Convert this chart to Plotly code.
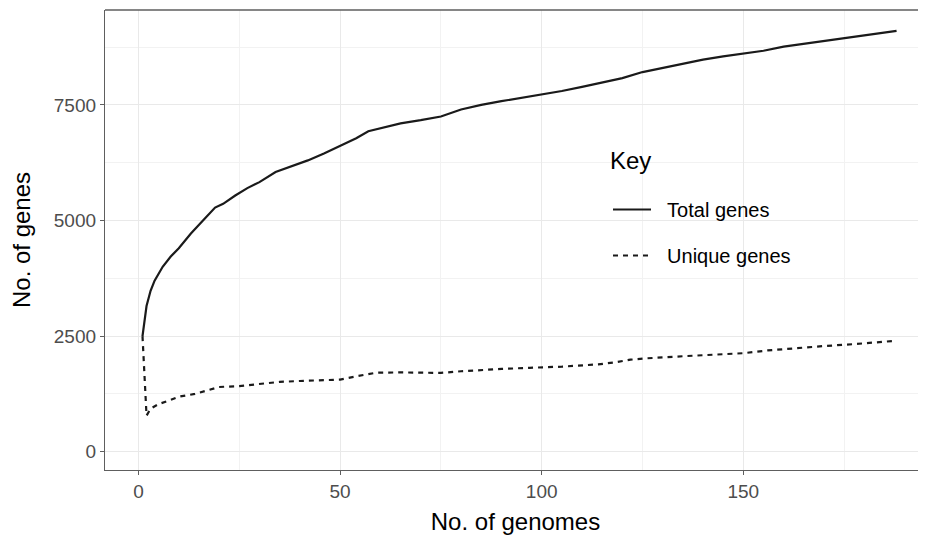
import plotly.graph_objects as go

# ---- data ----
genomes_total = [1, 2, 3, 4, 6, 8, 10, 13, 16, 19, 21, 24, 27, 30, 34, 38, 42, 46, 50,
                 54, 57, 60, 65, 70, 75, 80, 85, 90, 95, 100, 105, 110, 115, 120, 125,
                 130, 135, 140, 145, 150, 155, 160, 165, 170, 175, 180, 185, 188]
total_genes = [2500, 3150, 3480, 3700, 4000, 4220, 4400, 4720, 5000, 5280, 5360, 5540,
               5700, 5830, 6050, 6180, 6300, 6450, 6620, 6780, 6930, 6990, 7100, 7170,
               7250, 7400, 7500, 7580, 7650, 7720, 7800, 7890, 7980, 8080, 8210, 8300,
               8400, 8480, 8550, 8610, 8670, 8760, 8820, 8880, 8950, 9010, 9070, 9100]

genomes_unique = [1, 2, 3, 5, 7, 10, 14, 17, 20, 25, 30, 35, 40, 45, 50, 54, 59, 65, 70,
                  75, 80, 85, 90, 97, 105, 114, 118, 122, 126, 136, 145, 150, 156, 163,
                  170, 178, 183, 188]
unique_genes = [2500, 780, 930, 1030, 1090, 1190, 1250, 1320, 1400, 1420, 1460, 1510,
                1530, 1545, 1560, 1630, 1710, 1715, 1705, 1705, 1740, 1770, 1790, 1815,
                1840, 1890, 1930, 1990, 2020, 2070, 2110, 2130, 2190, 2240, 2285, 2330,
                2370, 2400]

series_names = ["Total genes", "Unique genes"]
legend_title = "Key"
x_title = "No. of genomes"
y_title = "No. of genes"
x_tick_vals = [0, 50, 100, 150]
y_tick_vals = [0, 2500, 5000, 7500]

FONT = "Liberation Sans, Arial, Helvetica, sans-serif"
LINE = "#1a1a1a"
GRID = "#e9e9e9"
MINOR = "#f2f2f2"
BORDER = "#5e5e5e"

# page is offset by the browser's 8px body margin
PL, PR, PT, PB = 105, 926, 10, 470   # plot area in page pixels


def px_x(p):
    return (p - PL) / (PR - PL)


def px_y(p):
    return 1 - (p - PT) / (PB - PT)


fig = go.Figure()
fig.add_trace(go.Scatter(x=genomes_total, y=total_genes, mode="lines",
                         name="&nbsp;&nbsp;" + series_names[0], legendgroup="a",
                         line=dict(color=LINE, width=2.2)))
fig.add_trace(go.Scatter(x=genomes_unique, y=unique_genes, mode="lines",
                         name="&nbsp;&nbsp;" + series_names[1], legendgroup="b",
                         line=dict(color=LINE, width=2.2, dash="5px,5px")))

axis_common = dict(
    showgrid=True, gridcolor=GRID, gridwidth=1.1,
    zeroline=False, showline=True, linecolor=BORDER, linewidth=1.3,
    ticks="outside", ticklen=4, tickcolor=BORDER, tickwidth=1.1,
    tickfont=dict(family=FONT, size=19, color="#4d4d4d"),
)

fig.update_layout(
    width=918, height=531,
    margin=dict(l=PL - 8, r=0, t=PT - 8, b=531 - (PB - 8)),
    paper_bgcolor="white", plot_bgcolor="white",
    font=dict(family=FONT, color="black"),
    xaxis=dict(range=[-8.3, 195.3], tickvals=x_tick_vals,
               minor=dict(dtick=25, tick0=0, showgrid=True, gridcolor=MINOR, gridwidth=0.7),
               title=dict(text=x_title, font=dict(family=FONT, size=24, color="black"), standoff=12),
               **axis_common),
    yaxis=dict(range=[-395, 9552], tickvals=y_tick_vals,
               minor=dict(dtick=1250, tick0=0, showgrid=True, gridcolor=MINOR, gridwidth=0.7),
               title=dict(text=y_title, font=dict(family=FONT, size=24, color="black"), standoff=17),
               **axis_common),
    legend=dict(
        font=dict(family=FONT, size=20, color="black"),
        bgcolor="rgba(0,0,0,0)", borderwidth=0,
        x=px_x(608), xanchor="left",
        y=px_y(190), yanchor="top",
        itemwidth=38, tracegroupgap=17,
    ),
    showlegend=True,
    shapes=[
        dict(type="rect", xref="paper", yref="paper", layer="between",
             x0=px_x(595), x1=px_x(815), y0=px_y(287), y1=px_y(132),
             fillcolor="white", line=dict(width=0)),
        dict(type="line", xref="paper", yref="paper", x0=0, x1=1, y0=1, y1=1,
             line=dict(color=BORDER, width=1.3)),
    ],
    annotations=[dict(text=legend_title, xref="paper", yref="paper",
                      x=px_x(608), y=px_y(160), xanchor="left", yanchor="middle",
                      showarrow=False, font=dict(family=FONT, size=24, color="black"))],
)

fig.write_html("out.html")
